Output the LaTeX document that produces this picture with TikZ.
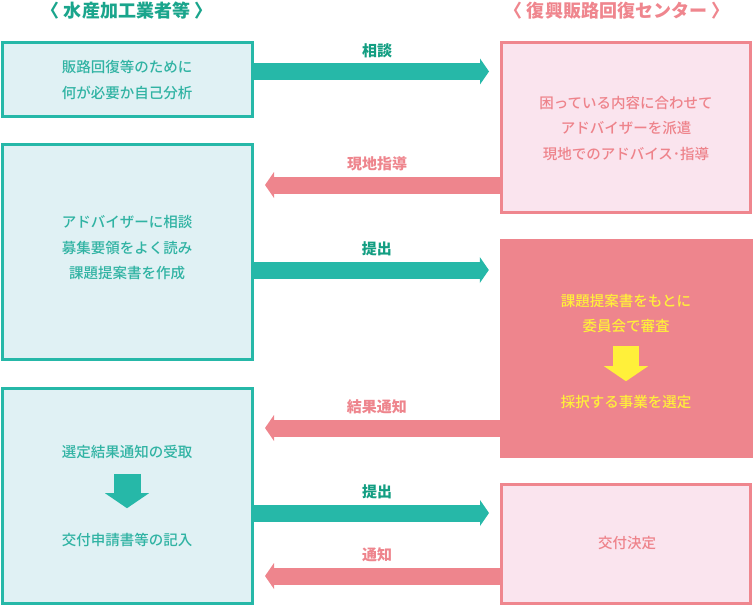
\documentclass[tikz,border=0pt]{standalone}
\usepackage{fontspec}
\setmainfont{Noto Sans CJK JP}
\newfontfamily\medfont{Noto Sans CJK JP Medium}
\usepackage{tikz}
\usetikzlibrary{arrows.meta}
\definecolor{tealline}{HTML}{26B8A8}
\definecolor{tealfill}{HTML}{E0F1F4}
\definecolor{tealtext}{HTML}{30B3A3}
\definecolor{teallbl}{HTML}{139E82}
\definecolor{tealhead}{HTML}{1AA58C}
\definecolor{pinkline}{HTML}{EF868E}
\definecolor{pinkfill}{HTML}{FAE4EE}
\definecolor{pinktext}{HTML}{EE838B}
\definecolor{pinkfull}{HTML}{EE858D}
\definecolor{yellowtxt}{HTML}{FFF03A}

\begin{document}
\begin{tikzpicture}[x=1pt, y=-1pt,
    lbox/.style={draw=tealline, fill=tealfill, line width=3pt, minimum width=250pt, minimum height=#1, inner sep=0pt},
    rbox/.style={draw=pinkline, fill=pinkfill, line width=3pt, minimum width=249pt, minimum height=#1, inner sep=0pt},
    txt/.style={text=#1, align=center, inner sep=0pt, font=\medfont\fontsize{14.5pt}{25.5pt}\selectfont},
    heading/.style={text=#1, inner sep=0pt, font=\fontsize{18pt}{20pt}\selectfont\bfseries},
    lbl/.style={text=#1, inner sep=0pt, font=\fontsize{15pt}{16pt}\selectfont\bfseries, midway, yshift=21pt},
    fat/.style={draw=#1, line width=17pt, -{Triangle[length=9pt, width=26pt, line width=0pt]}, shorten >=11pt},
    downarr/.style={draw=#1, line width=26pt, -{Triangle[length=15pt, width=44pt, line width=0pt]}},
]
\useasboundingbox (0,0) rectangle (754,607);

\node[heading=tealhead] (lhead) at (127,11) {〈 水産加工業者等 〉};
\node[heading=pinkline] (rhead) at (617,11) {〈 復興販路回復センター 〉};

\node[lbox=74pt] (lbox1) at (127.5,79.5) {};
\node[lbox=215pt] (lbox2) at (127.5,252) {};
\node[lbox=215pt] (lbox3) at (127.5,496) {};
\node[rbox=170pt] (rbox1) at (626,127.5) {};
\node[fill=pinkfull, minimum width=253pt, minimum height=219pt, inner sep=0pt] (rbox2) at (626.5,348.5) {};
\node[rbox=119pt] (rbox3) at (626,544) {};

\draw[fat=tealline] (lbox1.east |- 0,71.5) -- (rbox1.west |- 0,71.5) node[lbl=teallbl] (lsodan) {相談};
\draw[fat=pinkfull] (rbox1.west |- 0,185) -- (lbox2.east |- 0,185) node[lbl=pinkfull] (lshido) {現地指導};
\draw[fat=tealline] (lbox2.east |- 0,270) -- (rbox2.west |- 0,270) node[lbl=teallbl] (lteishutsu) {提出};
\draw[fat=pinkfull] (rbox2.west |- 0,428) -- (lbox3.east |- 0,428) node[lbl=pinkfull] (lkekka) {結果通知};
\draw[fat=tealline] (lbox3.east |- 0,513) -- (rbox3.west |- 0,513) node[lbl=teallbl] (lteishutsub) {提出};
\draw[fat=pinkfull] (rbox3.west |- 0,576) -- (lbox3.east |- 0,576) node[lbl=pinkfull] (ltsuchi) {通知};

\node[txt=tealtext] (ltxt1) at (127,80) {販路回復等のために\\何が必要か自己分析};
\node[txt=pinktext] (rtxt1) at (626,128.5) {困っている内容に合わせて\\アドバイザーを派遣\\現地でのアドバイス･指導};
\node[txt=tealtext] (ltxt2) at (127,248) {アドバイザーに相談\\募集要領をよく読み\\課題提案書を作成};
\node[txt=yellowtxt] (rtxt2a) at (626,313.5) {課題提案書をもとに\\委員会で審査};
\node[txt=yellowtxt] (rtxt2b) at (626,402) {採択する事業を選定};
\node[txt=tealtext] (ltxt3a) at (127,451.5) {選定結果通知の受取};
\node[txt=tealtext] (ltxt3b) at (127,540) {交付申請書等の記入};
\node[txt=pinktext] (rtxt3) at (627,543) {交付決定};

\draw[downarr=yellowtxt, shorten <=12.7pt, shorten >=13.8pt] (rtxt2a) -- (rtxt2b);
\draw[downarr=tealline, line width=27pt, shorten <=15.3pt, shorten >=24.8pt] (ltxt3a) -- (ltxt3b);
\end{tikzpicture}
\end{document}
